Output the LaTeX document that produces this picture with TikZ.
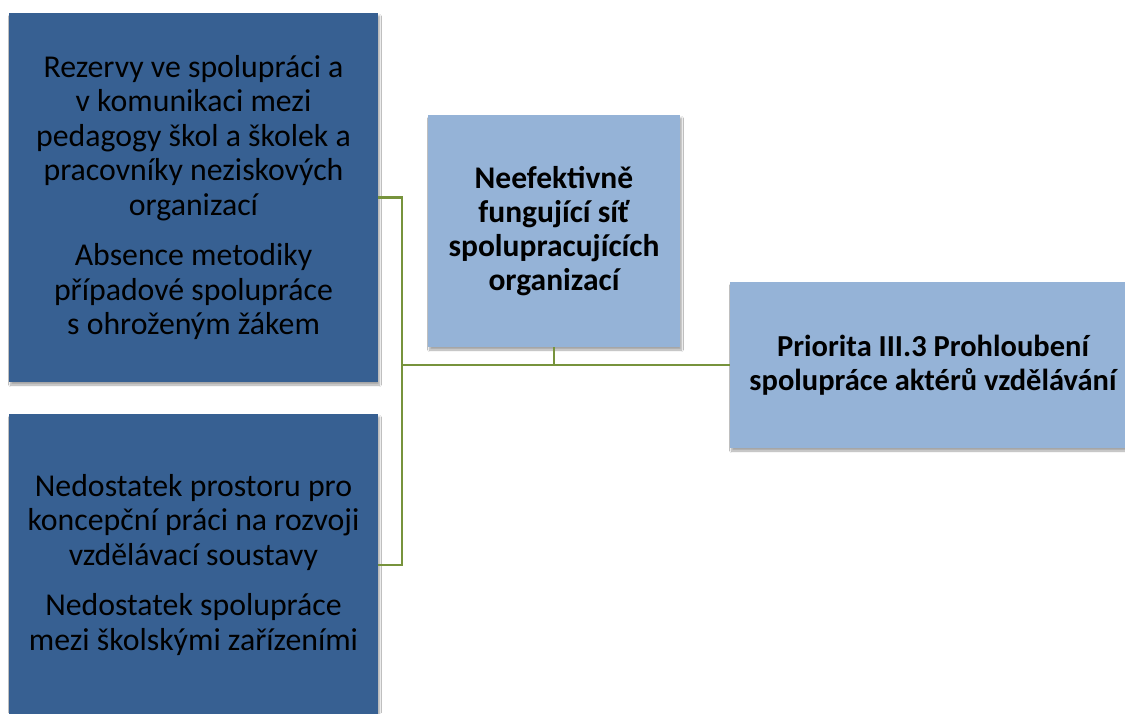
\documentclass[tikz,border=0pt]{standalone}
\usepackage{fontspec}
\setmainfont{Carlito}
\usetikzlibrary{shadows.blur}
\definecolor{darkbl}{RGB}{55,96,146}
\definecolor{lightbl}{RGB}{149,179,215}
\definecolor{olivegr}{RGB}{119,147,60}
\tikzset{
  boxbase/.style={rectangle, inner sep=0pt, align=center, text=black,
    blur shadow={shadow xshift=1.5pt, shadow yshift=-3pt, shadow blur steps=6, shadow opacity=35}},
  darkbox/.style={boxbase, fill=darkbl, font=\fontsize{31.8}{34.5}\selectfont},
  lightbox/.style={boxbase, fill=lightbl, font=\fontsize{31.5}{34}\selectfont\bfseries},
  rightbox/.style={boxbase, fill=lightbl, font=\fontsize{30.5}{34}\selectfont\bfseries},
  conn/.style={draw=olivegr, line width=2.6pt}
}
\begin{document}
\begin{tikzpicture}[x=1pt,y=-1pt]
\clip (0,0) rectangle (1125,713);
\fill[white] (0,0) rectangle (1125,713);
\node[darkbox, minimum width=369pt, minimum height=369pt] (top) at (193.5,197.5)
  {Rezervy ve spolupráci a\\ v~komunikaci mezi\\ pedagogy škol a školek a\\ pracovníky neziskových\\ organizací\\[16pt]
   Absence metodiky\\ případové spolupráce\\ s~ohroženým žákem};
\node[darkbox, minimum width=369pt, minimum height=302pt] (bot) at (193.5,565)
  {Nedostatek prostoru pro\\ koncepční práci na rozvoji\\ vzdělávací soustavy\\[16pt]
   Nedostatek spolupráce\\ mezi školskými zařízeními};
\node[lightbox, minimum width=252pt, minimum height=232pt] (mid) at (554,231)
  {Neefektivně\\ fungující síť\\ spolupracujících\\ organizací};
\node[rightbox, minimum width=406pt, minimum height=166pt] (right) at (933,365)
  {Priorita III.3 Prohloubení\\ spolupráce aktérů vzdělávání};
\coordinate (j) at (402,365);
\draw[conn] (top.east) -- (top.east -| j) -- (bot.east -| j) -- (bot.east);
\draw[conn] (j) -- (right.west);
\draw[conn] (mid.south) -- (mid.south |- j);
\end{tikzpicture}
\end{document}
